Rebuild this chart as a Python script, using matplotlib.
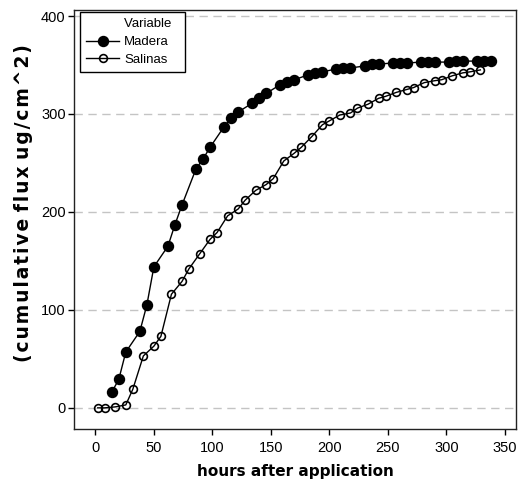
"""
Cumulative skin flux over time for two formulations (Madera vs Salinas).
"""

import matplotlib
matplotlib.use('Agg')
import matplotlib.pyplot as plt
from matplotlib.lines import Line2D

# ── Data ──────────────────────────────────────────────────────
madera_hours = [14, 20, 26, 38, 44, 50, 62, 68, 74, 86, 92, 98,
                110, 116, 122, 134, 140, 146, 158, 164, 170, 182, 188, 194,
                206, 212, 218, 230, 236, 242, 254, 260, 266, 278, 284, 290,
                302, 308, 314, 326, 332, 338]
madera_flux = [16, 29, 57, 78, 105, 144, 165, 187, 207, 244, 254, 266,
               287, 296, 302, 311, 316, 321, 330, 333, 335, 340, 342, 343,
               346, 347, 347, 349, 351, 351, 352, 352, 352, 353, 353, 353,
               353, 354, 354, 354, 354, 354]

salinas_hours = [2, 8, 17, 26, 32, 41, 50, 56, 65, 74, 80, 89, 98, 104,
                 113, 122, 128, 137, 146, 152, 161, 170, 176, 185, 194, 200,
                 209, 218, 224, 233, 242, 248, 257, 266, 272, 281, 290, 296,
                 305, 314, 320, 329]
salinas_flux = [0, 0, 1, 3, 19, 53, 63, 73, 116, 129, 142, 157, 172, 179,
                196, 203, 212, 222, 228, 234, 252, 260, 266, 277, 289, 293,
                299, 301, 306, 310, 316, 318, 322, 325, 327, 332, 334, 335,
                339, 342, 343, 345]

x_ticks = [0, 50, 100, 150, 200, 250, 300, 350]
y_ticks = [0, 100, 200, 300, 400]

# ── Style ─────────────────────────────────────────────────────
plt.rcParams['font.family'] = ['Liberation Sans', 'DejaVu Sans']

fig = plt.figure(figsize=(5.18, 4.84), dpi=100)
ax = fig.add_axes([0.143, 0.114, 0.853, 0.865])

for y in y_ticks:
    ax.axhline(y, color='#c4c4c4', lw=1.0, ls=(0, (6, 4)), zorder=0)

ax.plot(madera_hours, madera_flux, '-o', color='black', lw=1.0,
        ms=7.2, mfc='black', mec='black', label='Madera', zorder=3)
ax.plot(salinas_hours, salinas_flux, '-o', color='black', lw=1.0,
        ms=5.6, mfc='none', mec='black', mew=1.2, label='Salinas', zorder=3)

ax.set_xlim(-18.2, 359.4)
ax.set_ylim(-21.4, 406)
ax.set_xticks(x_ticks)
ax.set_yticks(y_ticks)
ax.tick_params(direction='out', length=4.5, width=1, labelsize=10.5,
               color='black')
ax.tick_params(axis='x', pad=4)
ax.tick_params(axis='y', pad=1.5)

for s in ax.spines.values():
    s.set_linewidth(1.0)
    s.set_color('#222222')

ax.set_xlabel('hours after application', fontsize=11, fontweight='bold',
              family=['DejaVu Sans'], labelpad=7)
# slightly looser letter spacing inside each word of the y title
ylab = ' '.join('\u200a'.join(w) for w in '(cumulative flux ug/cm^2)'.split())
ax.set_ylabel(ylab, fontsize=13.5, fontweight='bold', family=['DejaVu Sans'])
ax.yaxis.set_label_coords(-0.093, 0.54)

# legend: "Variable" heading sits in line with the entry labels
handles = [Line2D([], [], color='none'),
           Line2D([], [], color='black', lw=1.0, marker='o', ms=7.2,
                  mfc='black', mec='black'),
           Line2D([], [], color='black', lw=1.0, marker='o', ms=5.6,
                  mfc='none', mec='black', mew=1.2)]
labels = ['Variable  ', 'Madera', 'Salinas']
leg = ax.legend(handles, labels, loc='upper left',
                bbox_to_anchor=(0.0136, 0.995), fontsize=9.5,
                fancybox=False, framealpha=1, edgecolor='black',
                handlelength=2.5, borderpad=0.45, labelspacing=0.42,
                handletextpad=0.4, borderaxespad=0)
leg.get_frame().set_linewidth(1.0)

fig.savefig('out.png', dpi=100)
